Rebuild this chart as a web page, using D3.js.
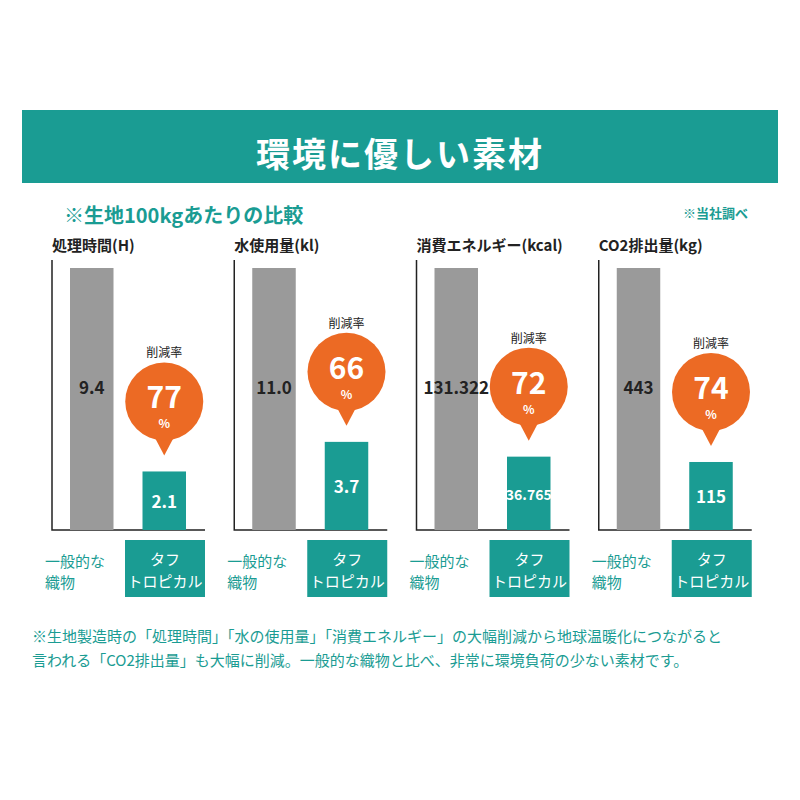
<!DOCTYPE html>
<html><head><meta charset="utf-8">
<script src="https://cdn.jsdelivr.net/npm/d3@7"></script>
<style>body{margin:0;background:#fff}svg{font-family:"Noto Sans CJK JP","Noto Sans",sans-serif}</style>
</head><body><svg id="c" width="800" height="800"></svg>
<script>
// chart data
const panelTitles = ['処理時間(H)', '水使用量(kl)', '消費エネルギー(kcal)', 'CO2排出量(kg)']
const generalValues = [9.4, 11.0, 131.322, 443]
const tropicalValues = [2.1, 3.7, 36.765, 115]
const valueLabels = [['9.4', '2.1'], ['11.0', '3.7'], ['131.322', '36.765'], ['443', '115']]
const reductionRates = [77, 66, 72, 74]

const teal = '#1a9c93', orange = '#ec6a24', gray = '#9a9a9a'
const svg = d3.select('#c')

svg.append('rect').attr('x', 22).attr('y', 110).attr('width', 756).attr('height', 73).attr('fill', teal)
svg.append('text').attr('x', 400).attr('y', 167).attr('text-anchor', 'middle')
  .attr('fill', '#fff').attr('font-size', 34).attr('font-weight', 700).attr('letter-spacing', 2).text('環境に優しい素材')

svg.append('text').attr('x', 64).attr('y', 223).attr('fill', teal).attr('font-size', 20).attr('font-weight', 700).text('※生地100kgあたりの比較')
svg.append('text').attr('x', 748).attr('y', 218).attr('text-anchor', 'end').attr('fill', teal).attr('font-size', 13).attr('font-weight', 700).text('※当社調べ')

const x0 = d3.scaleBand().domain(d3.range(4)).range([52, 781]).paddingInner(0)
const xb = d3.scaleBand().domain(['g', 't']).range([18, 134]).paddingInner(0.4)

panelTitles.forEach((title, i) => {
  const g = svg.append('g').attr('transform', `translate(${x0(i)},0)`)
  const y = d3.scaleLinear().domain([0, generalValues[i]]).range([530, 268])
  g.append('text').attr('x', 0).attr('y', 251).attr('font-size', 15).attr('font-weight', 700).attr('fill', '#222').text(title)
  g.append('path').attr('d', 'M0,260V530H153').attr('fill', 'none').attr('stroke', '#222').attr('stroke-width', 1.5)
  const vals = [['g', generalValues[i], gray], ['t', tropicalValues[i], teal]]
  g.selectAll('rect.bar').data(vals).join('rect').attr('class', 'bar')
    .attr('x', d => xb(d[0])).attr('width', xb.bandwidth())
    .attr('y', d => y(d[1])).attr('height', d => 530 - y(d[1])).attr('fill', d => d[2])
  g.append('text').attr('x', xb('g') + xb.bandwidth() / 2).attr('y', 394).attr('text-anchor', 'middle')
    .attr('font-size', 17).attr('font-weight', 700).attr('fill', '#222').text(valueLabels[i][0])
  const top = y(tropicalValues[i])
  const cx = xb('t') + xb.bandwidth() / 2
  g.append('text').attr('x', cx).attr('y', top + (530 - top) / 2 + 7).attr('text-anchor', 'middle')
    .attr('font-size', valueLabels[i][1].length > 4 ? 14 : 17).attr('font-weight', 700).attr('fill', '#fff').text(valueLabels[i][1])
  const cy = top - 70
  g.append('path').attr('d', `M${cx - 10},${cy + 35}L${cx},${top - 16}L${cx + 10},${cy + 35}Z`).attr('fill', orange)
  g.append('circle').attr('cx', cx).attr('cy', cy).attr('r', 39).attr('fill', orange)
  g.append('text').attr('x', cx).attr('y', cy - 44).attr('text-anchor', 'middle').attr('font-size', 12).attr('fill', '#222').text('削減率')
  g.append('text').attr('x', cx).attr('y', cy + 7).attr('text-anchor', 'middle').attr('font-size', 30).attr('font-weight', 700).attr('fill', '#fff').text(reductionRates[i])
  g.append('text').attr('x', cx).attr('y', cy + 27).attr('text-anchor', 'middle').attr('font-size', 12).attr('font-weight', 700).attr('fill', '#fff').text('%')
  // bottom category labels
  g.append('text').attr('x', -7).attr('y', 567).attr('font-size', 15).attr('fill', teal).text('一般的な')
  g.append('text').attr('x', -7).attr('y', 588).attr('font-size', 15).attr('fill', teal).text('織物')
  g.append('rect').attr('x', 73).attr('y', 540).attr('width', 80).attr('height', 57).attr('fill', teal)
  g.append('text').attr('x', 113).attr('y', 565).attr('text-anchor', 'middle').attr('font-size', 15).attr('fill', '#fff').text('タフ')
  g.append('text').attr('x', 113).attr('y', 587).attr('text-anchor', 'middle').attr('font-size', 15).attr('fill', '#fff').text('トロピカル')
})

const notes = ['※生地製造時の「処理時間」「水の使用量」「消費エネルギー」の大幅削減から地球温暖化につながると',
  '言われる「CO2排出量」も大幅に削減。一般的な織物と比べ、非常に環境負荷の少ない素材です。']
svg.selectAll('text.note').data(notes).join('text').attr('class', 'note')
  .attr('x', 32).attr('y', (d, i) => 642 + i * 24).attr('font-size', 15).attr('fill', teal).text(d => d)
</script></body></html>
